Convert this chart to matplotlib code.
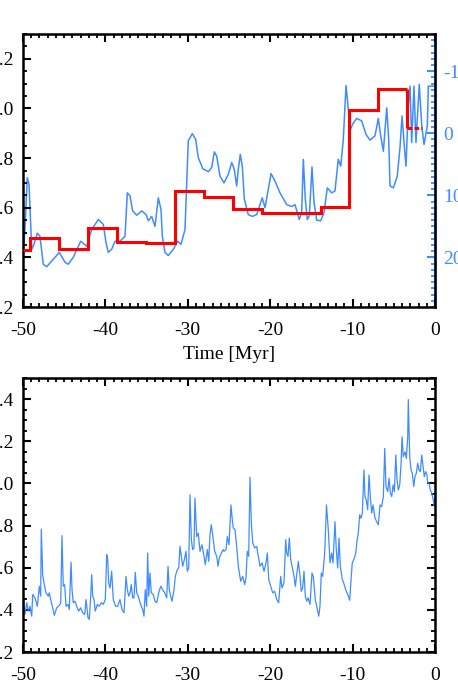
import numpy as np
import matplotlib.pyplot as plt
from matplotlib.ticker import MultipleLocator

plt.rcParams['font.family'] = ['Liberation Serif', 'DejaVu Serif']
plt.rcParams['font.size'] = 14
plt.rcParams['axes.unicode_minus'] = False

BLUE = '#3f8cff'

# --- top panel: binned (red, left axis) and smooth track (blue, right axis)
bin_edges = [-50, -49.15, -45.6, -42.1, -38.6, -35.1, -31.55, -28.0, -24.55,
             -21.03, -17.5, -13.87, -10.4, -6.88, -3.36, -1.62]
bin_vals = [0.43, 0.48, 0.435, 0.52, 0.462, 0.458, 0.667, 0.644, 0.593,
            0.577, 0.580, 0.604, 0.993, 1.079, 0.921]

track_t = [-50.00, -49.76, -49.48, -49.27, -48.94, -48.67, -48.26, -47.94, -47.54, -47.12,
           -46.32, -45.59, -44.90, -44.50, -43.90, -43.00, -42.27, -41.66, -40.86, -40.25,
           -39.93, -39.65, -39.24, -38.83, -38.23, -37.62, -37.34, -37.01, -36.69, -36.20,
           -35.59, -35.07, -34.79, -34.38, -33.98, -33.58, -33.25, -33.09, -32.77, -32.37,
           -31.76, -31.23, -30.83, -30.34, -29.94, -29.45, -29.04, -28.73, -28.19, -27.51,
           -27.10, -26.78, -26.49, -26.09, -25.61, -25.08, -24.67, -24.36, -24.07, -23.87,
           -23.63, -23.39, -23.14, -22.66, -22.17, -21.64, -21.24, -20.96, -20.63, -20.23,
           -19.90, -19.42, -18.81, -18.00, -17.39, -16.99, -16.47, -16.18, -15.98, -15.74,
           -15.50, -15.25, -14.93, -14.68, -14.36, -13.87, -13.47, -13.07, -12.54, -12.14,
           -11.74, -11.44, -11.13, -10.80, -10.52, -10.32, -9.99, -9.50, -8.90, -8.37,
           -7.89, -7.28, -6.88, -6.59, -6.27, -5.86, -5.62, -5.46, -5.06, -4.58,
           -4.25, -4.00, -3.76, -3.52, -3.24, -3.03, -2.83, -2.55, -2.31, -1.91,
           -1.61, -1.33, -0.93, -0.81, 0.0]
track_r = [20.0, 15.5, 7.15, 8.2, 18.7, 17.9, 16.1, 16.6, 21.1, 21.5,
           20.3, 19.2, 20.8, 21.1, 20.0, 17.4, 18.2, 15.5, 13.9, 14.7,
           17.6, 19.2, 18.7, 17.4, 17.4, 16.6, 9.6, 10.1, 12.5, 13.2,
           12.5, 13.1, 14.1, 13.4, 15.0, 10.4, 12.3, 16.6, 19.2, 19.7,
           18.7, 17.4, 17.9, 15.5, 1.2, 0.05, 1.0, 3.9, 5.7, 6.2,
           5.5, 3.0, 3.7, 6.9, 8.0, 6.6, 4.7, 5.8, 8.5, 5.8,
           3.4, 5.3, 10.6, 13.1, 13.4, 13.1, 11.5, 10.4, 12.0, 9.0,
           6.5, 7.7, 9.6, 11.5, 11.8, 11.5, 13.9, 12.8, 4.2, 10.6,
           13.9, 13.3, 5.4, 11.2, 14.0, 14.1, 12.8, 8.8, 9.6, 9.3,
           4.2, 5.3, 1.0, -7.7, -3.9, -0.4, -1.5, -2.4, -2.0, 0.2,
           1.1, 0.4, -2.4, 0.4, 2.9, -4.1, 1.0, 8.5, 8.8, 6.9,
           2.3, -2.8, 1.5, 5.3, -4.4, -7.6, 1.5, -7.6, 1.5, -7.9,
           -1.2, 1.8, -1.2, -7.6, -7.6]

# --- bottom panel: noisy series
noisy_t = [-50.00, -49.96, -49.76, -49.54, -49.35, -49.15, -48.94, -48.82, -48.54, -48.26,
           -48.02, -47.85, -47.78, -47.61, -47.45, -47.21, -46.93, -46.81, -46.64, -46.40,
           -46.20, -45.91, -45.59, -45.42, -45.27, -45.11, -44.94, -44.78, -44.54, -44.38,
           -44.17, -44.05, -43.90, -43.69, -43.48, -43.24, -43.00, -42.75, -42.51, -42.35,
           -42.11, -41.95, -41.78, -41.66, -41.54, -41.38, -41.23, -40.98, -40.74, -40.50,
           -40.26, -40.01, -39.84, -39.72, -39.60, -39.44, -39.24, -39.04, -38.75, -38.51,
           -38.23, -37.99, -37.74, -37.50, -37.34, -37.17, -37.01, -36.86, -36.69, -36.53,
           -36.37, -36.20, -36.01, -35.80, -35.64, -35.47, -35.32, -35.16, -34.99, -34.87,
           -34.74, -34.59, -34.43, -34.19, -33.98, -33.77, -33.53, -33.29, -33.05, -32.80,
           -32.56, -32.40, -32.25, -32.08, -31.92, -31.67, -31.52, -31.27, -31.10, -30.95,
           -30.79, -30.62, -30.42, -30.22, -30.06, -29.89, -29.73, -29.57, -29.41, -29.25,
           -29.13, -28.92, -28.73, -28.52, -28.28, -28.03, -27.88, -27.63, -27.46, -27.31,
           -27.15, -26.98, -26.74, -26.49, -26.33, -26.18, -25.93, -25.69, -25.61, -25.36,
           -25.21, -25.00, -24.76, -24.64, -24.48, -24.27, -24.07, -23.87, -23.58, -23.34,
           -23.09, -22.94, -22.78, -22.61, -22.45, -22.29, -22.12, -21.88, -21.64, -21.44,
           -21.24, -20.99, -20.75, -20.51, -20.35, -20.18, -19.94, -19.70, -19.45, -19.21,
           -18.97, -18.73, -18.57, -18.33, -18.12, -18.00, -17.84, -17.68, -17.51, -17.35,
           -17.11, -16.95, -16.78, -16.59, -16.38, -16.23, -16.06, -15.90, -15.74, -15.57,
           -15.41, -15.17, -14.93, -14.77, -14.53, -14.28, -14.11, -13.96, -13.80, -13.63,
           -13.39, -13.17, -12.95, -12.74, -12.54, -12.38, -12.14, -11.98, -11.81, -11.65,
           -11.49, -11.25, -11.08, -10.84, -10.59, -10.35, -10.19, -10.04, -9.79, -9.62,
           -9.47, -9.31, -9.14, -8.98, -8.82, -8.62, -8.50, -8.34, -8.17, -8.01,
           -7.85, -7.68, -7.52, -7.28, -7.07, -6.88, -6.67, -6.47, -6.27, -6.10,
           -5.95, -5.74, -5.58, -5.42, -5.25, -5.09, -4.93, -4.76, -4.61, -4.45,
           -4.28, -4.13, -4.00, -3.85, -3.64, -3.48, -3.31, -3.24, -3.07, -2.91,
           -2.75, -2.58, -2.43, -2.27, -2.10, -1.94, -1.78, -1.61, -1.46, -1.30,
           -1.13, -0.97, -0.89, -0.73, -0.57, -0.40, -0.21, -0.08, 0.00]
noisy_v = [0.339, 0.465, 0.378, 0.434, 0.394, 0.417, 0.370, 0.473, 0.457, 0.417,
           0.512, 0.465, 0.783, 0.567, 0.528, 0.481, 0.465, 0.481, 0.449, 0.410,
           0.374, 0.410, 0.421, 0.434, 0.752, 0.512, 0.520, 0.417, 0.426, 0.402,
           0.626, 0.496, 0.434, 0.441, 0.417, 0.394, 0.410, 0.386, 0.378, 0.449,
           0.363, 0.355, 0.465, 0.567, 0.465, 0.449, 0.394, 0.426, 0.417, 0.434,
           0.426, 0.449, 0.662, 0.638, 0.528, 0.504, 0.583, 0.449, 0.417, 0.417,
           0.449, 0.402, 0.386, 0.559, 0.496, 0.465, 0.481, 0.520, 0.457, 0.457,
           0.578, 0.481, 0.465, 0.434, 0.417, 0.402, 0.370, 0.496, 0.417, 0.670,
           0.465, 0.575, 0.481, 0.473, 0.441, 0.434, 0.481, 0.512, 0.496, 0.481,
           0.457, 0.607, 0.496, 0.465, 0.441, 0.496, 0.559, 0.591, 0.599, 0.701,
           0.654, 0.607, 0.638, 0.678, 0.583, 0.599, 0.946, 0.733, 0.686, 0.694,
           0.930, 0.748, 0.764, 0.678, 0.709, 0.654, 0.615, 0.686, 0.630, 0.757,
           0.804, 0.757, 0.678, 0.654, 0.607, 0.646, 0.670, 0.686, 0.678, 0.686,
           0.748, 0.709, 0.898, 0.843, 0.788, 0.780, 0.701, 0.607, 0.536, 0.559,
           0.520, 0.552, 0.678, 0.654, 1.029, 0.812, 0.717, 0.694, 0.701, 0.654,
           0.607, 0.623, 0.583, 0.623, 0.670, 0.544, 0.512, 0.481, 0.488, 0.449,
           0.434, 0.559, 0.504, 0.528, 0.733, 0.670, 0.654, 0.741, 0.638, 0.607,
           0.559, 0.512, 0.567, 0.630, 0.559, 0.488, 0.504, 0.583, 0.465, 0.441,
           0.457, 0.426, 0.575, 0.559, 0.449, 0.402, 0.370, 0.417, 0.575, 0.559,
           0.670, 0.898, 0.780, 0.623, 0.670, 0.623, 0.819, 0.686, 0.599, 0.741,
           0.607, 0.544, 0.528, 0.496, 0.473, 0.446, 0.544, 0.623, 0.646, 0.670,
           0.725, 0.764, 0.851, 0.835, 0.859, 1.064, 0.938, 0.922, 0.875, 1.040,
           0.938, 0.859, 0.898, 0.835, 0.819, 0.804, 0.898, 0.890, 0.938, 1.166,
           0.985, 0.961, 1.025, 0.954, 0.938, 0.993, 0.961, 1.135, 1.017, 0.969,
           0.993, 1.087, 1.221, 1.127, 1.150, 1.119, 1.221, 1.398, 1.127, 1.064,
           1.048, 0.985, 1.032, 1.048, 1.096, 1.064, 1.056, 1.135, 1.087, 1.032,
           1.056, 1.040, 1.004, 1.001, 0.969, 0.954, 0.922, 0.890, 0.954]

x_ticks = [-50, -40, -30, -20, -10, 0]
x_ticklabels = ['-50', '-40', '-30', '-20', '-10', '0']


def style_axis(ax, color='black'):
    for s in ax.spines.values():
        s.set_linewidth(1.8)
        s.set_color(color)
    ax.tick_params(which='major', direction='in', length=5.5, width=1.5)
    ax.tick_params(which='minor', direction='in', length=3, width=1.3)
    ax.tick_params(axis='x', which='major', pad=11)
    ax.tick_params(axis='y', which='major', pad=6.5)


fig = plt.figure(figsize=(4.58, 6.87), dpi=100)

# top panel
ax1 = fig.add_axes([0.0502, 0.5531, 0.8996, 0.3974])
style_axis(ax1)
ax1.stairs(bin_vals[:-1], bin_edges[:-1], baseline=None, color='red', lw=2.2, zorder=3)
ax1.vlines(bin_edges[-2], bin_vals[-1], bin_vals[-2], color='red', lw=2.2, zorder=3)
ax1.plot(bin_edges[-2:], [bin_vals[-1]] * 2, color='red', lw=2.2, ls=(0, (1.5, 0.8)), zorder=3)
ax1.set_xlim(-50, 0)
ax1.set_ylim(0.2, 1.3)
ax1.set_xticks(x_ticks)
ax1.set_xticklabels(x_ticklabels)
ax1.xaxis.set_minor_locator(MultipleLocator(1))
ax1.yaxis.set_major_locator(MultipleLocator(0.2))
ax1.yaxis.set_minor_locator(MultipleLocator(0.05))
ax1.tick_params(axis='x', which='both', top=True)
ax1.tick_params(axis='y', which='both', right=False)
ax1.set_xlabel('Time [Myr]', labelpad=5)

ax1r = ax1.twinx()
ax1r.plot(track_t, track_r, color=BLUE, lw=1.1, zorder=2)
ax1r.set_ylim(28, -16)
ax1r.yaxis.set_major_locator(MultipleLocator(10))
ax1r.yaxis.set_minor_locator(MultipleLocator(1))
for s in ax1r.spines.values():
    s.set_visible(False)
ax1r.spines['right'].set_visible(True)
ax1r.spines['right'].set_color(BLUE)
ax1r.spines['right'].set_linewidth(1.8)
ax1r.tick_params(which='major', direction='in', length=5.5, width=1.5, pad=6,
                 color=BLUE, labelcolor=BLUE)
ax1r.tick_params(which='minor', direction='in', length=3, width=1.3, color=BLUE)
ax1.set_zorder(ax1r.get_zorder() + 1)
ax1.patch.set_visible(False)

# bottom panel
ax2 = fig.add_axes([0.0502, 0.0509, 0.8996, 0.3988])
style_axis(ax2)
ax2.plot(noisy_t, noisy_v, color=BLUE, lw=0.9)
ax2.set_xlim(-50, 0)
ax2.set_ylim(0.2, 1.5)
ax2.set_xticks(x_ticks)
ax2.set_xticklabels(x_ticklabels)
ax2.xaxis.set_minor_locator(MultipleLocator(1))
ax2.yaxis.set_major_locator(MultipleLocator(0.2))
ax2.yaxis.set_minor_locator(MultipleLocator(0.05))
ax2.tick_params(which='both', top=True, right=True)
ax2.set_xlabel('Time [Myr]', labelpad=5)

fig.savefig('out.png', dpi=100)
